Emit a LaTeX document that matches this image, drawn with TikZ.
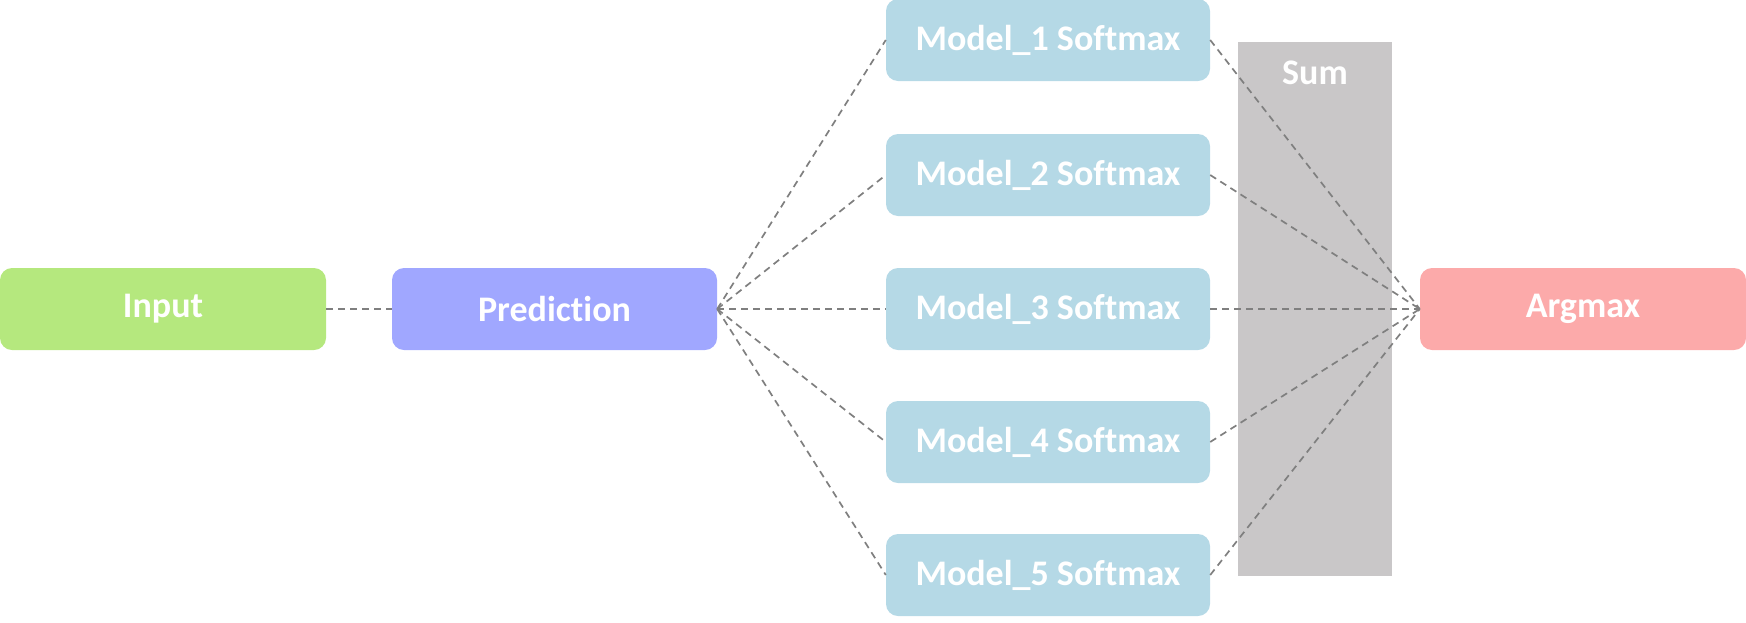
\documentclass[tikz,border=0pt]{standalone}
\usepackage{fontspec}
\setmainfont{Carlito}[Ligatures=NoCommon]
\definecolor{cinput}{HTML}{B5E87E}
\definecolor{cpred}{HTML}{A0A7FF}
\definecolor{cmodel}{HTML}{B5D9E6}
\definecolor{csum}{HTML}{C9C7C8}
\definecolor{carg}{HTML}{FCAAAA}
\definecolor{cline}{HTML}{7F7F7F}
\begin{document}
\begin{tikzpicture}[x=1pt,y=-1pt,
  box/.style={rectangle, rounded corners=12pt, inner sep=0pt, minimum height=82pt,
    text=white, font=\fontsize{36}{42}\selectfont\bfseries},
  wide/.style={box, minimum width=326pt},
  mbox/.style={box, fill=cmodel, minimum width=324pt},
  conn/.style={draw=cline, line width=1.7pt, dash pattern=on 7pt off 5pt}]
\useasboundingbox (0,0) rectangle (1746,622);
\fill[csum] (1238,42) rectangle (1392,576);
\node[text=white, font=\fontsize{36}{42}\selectfont\bfseries] (sum) at (1315,73) {Sum};
\node[wide, fill=cinput] (input) at (163,309) {Input};
\node[wide, fill=cpred, minimum width=325pt] (pred) at (554.5,309) {Prediction};
\node[mbox] (m1) at (1048,40) {Model\_1 Softmax};
\node[mbox] (m2) at (1048,175) {Model\_2 Softmax};
\node[mbox] (m3) at (1048,309) {Model\_3 Softmax};
\node[mbox] (m4) at (1048,442) {Model\_4 Softmax};
\node[mbox] (m5) at (1048,575) {Model\_5 Softmax};
\node[wide, fill=carg] (arg) at (1583,309) {Argmax};
\draw[conn] (input.east) -- (pred.west);
\foreach \m in {m1,m2,m3,m4,m5}{
  \draw[conn] (pred.east) -- (\m.west);
  \draw[conn] (\m.east) -- (arg.west);
}
\end{tikzpicture}
\end{document}
